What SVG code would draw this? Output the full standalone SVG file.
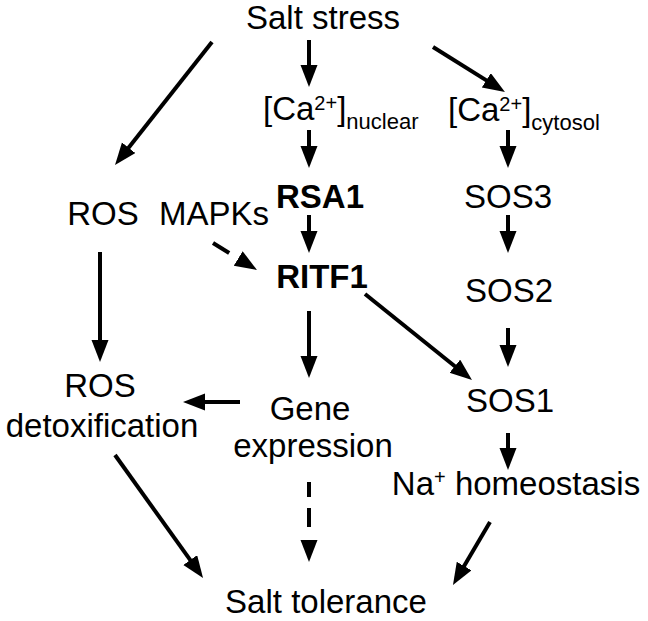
<svg xmlns="http://www.w3.org/2000/svg" width="648" height="621" viewBox="0 0 648 621">
<style>
text{font-family:"Liberation Sans",Arial,sans-serif;font-size:33px;fill:#000}
.c{text-anchor:middle}
.b{font-weight:bold}
.ln{stroke:#000;stroke-width:4;fill:none;marker-end:url(#ah)}
.d{stroke-dasharray:19 13}
</style>
<defs>
<marker id="ah" markerUnits="userSpaceOnUse" markerWidth="24" markerHeight="18" refX="2" refY="8.5" orient="auto">
<path d="M0,0 L22,8.5 L0,17 z" fill="#000"/>
</marker>
</defs>
<rect width="648" height="621" fill="#fff"/>
<g id="salt-stress"><text class="c" x="323" y="29">Salt stress</text></g>
<g id="ca-nuclear"><text x="263" y="120">[Ca<tspan font-size="20" dy="-10">2+</tspan><tspan dy="10">]</tspan><tspan font-size="22" dy="9">nuclear</tspan></text></g>
<g id="ca-cytosol"><text x="448" y="121">[Ca<tspan font-size="20" dy="-10">2+</tspan><tspan dy="10">]</tspan><tspan font-size="22" dy="9">cytosol</tspan></text></g>
<g id="rsa1"><text class="c b" x="320" y="208">RSA1</text></g>
<g id="sos3"><text class="c" x="508" y="208">SOS3</text></g>
<g id="ros"><text class="c" x="103" y="225">ROS</text></g>
<g id="mapks"><text class="c" x="214" y="225">MAPKs</text></g>
<g id="ritf1"><text class="c b" x="322" y="288">RITF1</text></g>
<g id="sos2"><text class="c" x="509" y="302">SOS2</text></g>
<g id="ros-detox"><text class="c" x="100" y="397">ROS</text><text class="c" x="102" y="437">detoxification</text></g>
<g id="gene-expression"><text class="c" x="310" y="420">Gene</text><text class="c" x="313" y="457">expression</text></g>
<g id="sos1"><text class="c" x="510" y="412">SOS1</text></g>
<g id="na-homeostasis"><text class="c" x="516" y="495">Na<tspan font-size="20" dy="-11">+</tspan><tspan dy="11"> homeostasis</tspan></text></g>
<g id="salt-tolerance"><text class="c" x="326" y="613">Salt tolerance</text></g>
<g id="connectors">
<line class="ln" x1="212" y1="42" x2="127.4" y2="149.3"/>
<line class="ln" x1="309" y1="40" x2="309" y2="67"/>
<line class="ln" x1="433" y1="47" x2="488" y2="81.4"/>
<line class="ln" x1="309" y1="130" x2="309" y2="148"/>
<line class="ln" x1="508" y1="130" x2="508" y2="148"/>
<line class="ln" x1="309" y1="215" x2="309" y2="233"/>
<line class="ln" x1="508" y1="215" x2="508" y2="233"/>
<line class="ln d" x1="213" y1="243" x2="239.9" y2="259.5"/>
<line class="ln" x1="100" y1="252" x2="100" y2="342"/>
<line class="ln" x1="309" y1="311" x2="309" y2="358"/>
<line class="ln" x1="365" y1="294" x2="456.4" y2="367.5"/>
<line class="ln" x1="508" y1="328" x2="508" y2="347"/>
<line class="ln" x1="240" y1="402" x2="203" y2="402"/>
<line class="ln" x1="508" y1="433" x2="508" y2="450"/>
<line class="ln" x1="115" y1="455" x2="191.4" y2="561.7"/>
<line class="ln" x1="309" y1="482" x2="309" y2="542" style="stroke-dasharray:15 11 19 20"/>
<line class="ln" x1="490" y1="522" x2="463.1" y2="567.8"/>
</g>
</svg>
